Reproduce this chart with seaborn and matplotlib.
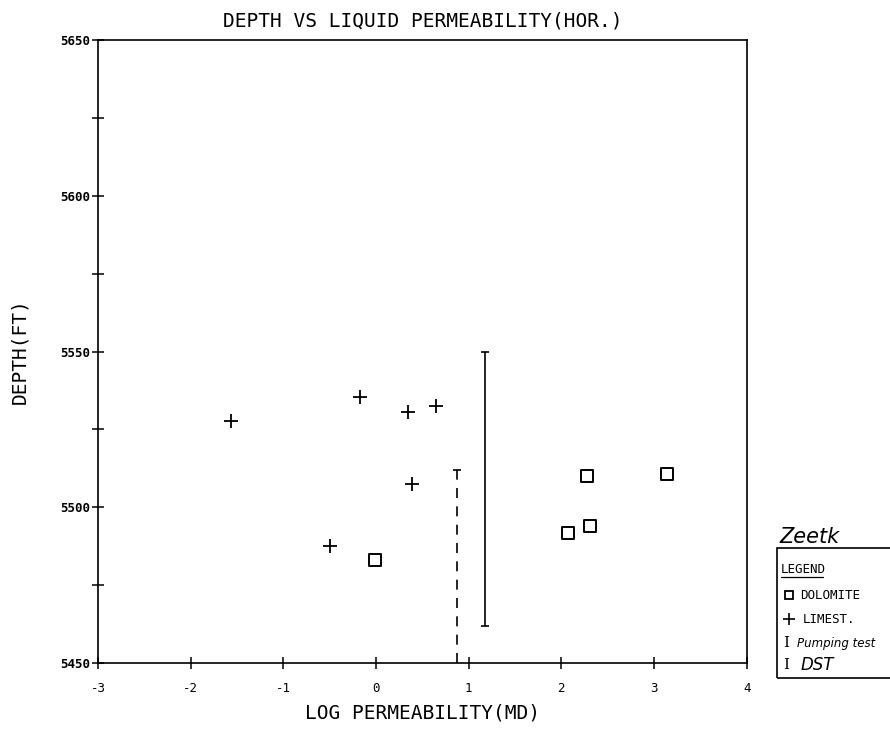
import numpy as np
import pandas as pd
import seaborn as sns
import matplotlib.pyplot as plt
from matplotlib.patches import Rectangle
from matplotlib.lines import Line2D

# data
limest_perm = [-1.56, -0.17, 0.35, 0.65, 0.39, -0.50]
limest_depth = [5527.6, 5535.5, 5530.7, 5532.4, 5507.4, 5487.5]
dolo_perm = [-0.01, 2.28, 3.14, 2.07, 2.31]
dolo_depth = [5483.0, 5510.0, 5510.7, 5491.8, 5494.0]

# tested intervals
pump_perm = [1.18]
pump_top = [5550.0]
pump_bot = [5462.0]
dst_perm = [0.87]
dst_top = [5512.0]
dst_bot = [5450.0]

x_ticks = [-3, -2, -1, 0, 1, 2, 3, 4]
y_major = [5450, 5500, 5550, 5600, 5650]
y_minor = [5475, 5525, 5575, 5625]

sns.set_theme(style="white")
plt.rcParams['font.family'] = ['DejaVu Sans Mono', 'DejaVu Sans']
plt.rcParams['text.color'] = 'black'
plt.rcParams['axes.labelcolor'] = 'black'

fig = plt.figure(figsize=(8.9, 7.47), dpi=100)
ax = fig.add_axes([0.110, 0.1124, 0.729, 0.834])

lim = pd.DataFrame({"perm": limest_perm, "depth": limest_depth})
dol = pd.DataFrame({"perm": dolo_perm, "depth": dolo_depth})

sns.scatterplot(data=lim, x="perm", y="depth", marker="+", s=110,
                color="black", linewidth=1.3, ax=ax)
sns.scatterplot(data=dol, x="perm", y="depth", marker="s", s=70,
                facecolor="none", edgecolor="black", linewidth=1.4, ax=ax)

# pumping test (solid) and DST (dashed)
ax.vlines(pump_perm, pump_bot, pump_top, colors="black", linewidth=1.2)
ax.scatter(pump_perm * 2, pump_top + pump_bot, marker="_", s=40,
           color="black", linewidth=1.2)
ax.vlines(dst_perm, dst_bot, dst_top, colors="black", linewidth=1.2,
          linestyles=(0, (6, 5)))
ax.scatter(dst_perm, dst_top, marker="_", s=40, color="black", linewidth=1.2)

ax.set_xlim(-3, 4)
ax.set_ylim(5450, 5650)
ax.set_xticks(x_ticks)
ax.set_xticklabels(["-3", "-2", "-1", "0", "1", "2", "3", "4"])
ax.set_yticks(y_major)
ax.set_yticks(y_minor, minor=True)
ax.tick_params(axis="both", which="both", direction="inout", length=9,
               width=1.1, colors="black", labelsize=9, bottom=True, left=True,
               top=False, right=False)
ax.tick_params(axis="y", pad=1)
ax.tick_params(axis="x", pad=9)
for lab in ax.get_yticklabels():
    lab.set_fontweight("bold")
for sp in ax.spines.values():
    sp.set_color("black")
    sp.set_linewidth(1.2)

ax.set_xlabel("LOG PERMEABILITY(MD)", fontsize=14, labelpad=6)
ax.set_ylabel("DEPTH(FT)", fontsize=14, labelpad=22)
ax.set_title("DEPTH VS LIQUID PERMEABILITY(HOR.)", fontsize=14, pad=10)

# legend box drawn on the figure
fig.patches.append(Rectangle((0.873, 0.092), 0.2, 0.174, transform=fig.transFigure,
                             fill=False, edgecolor="black", linewidth=1.2))
fig.text(0.877, 0.238, "LEGEND", fontsize=9, va="center")
fig.lines.append(Line2D([0.877, 0.925], [0.227, 0.227], transform=fig.transFigure,
                        color="black", linewidth=0.9))
fig.lines.append(Line2D([0.887], [0.203], transform=fig.transFigure, marker="s",
                        markersize=6, markerfacecolor="none", markeredgecolor="black",
                        markeredgewidth=1.3))
fig.text(0.899, 0.203, "DOLOMITE", fontsize=9, va="center")
fig.lines.append(Line2D([0.887], [0.171], transform=fig.transFigure, marker="+",
                        markersize=8, color="black", markeredgewidth=1.2))
fig.text(0.902, 0.171, "LIMEST.", fontsize=9, va="center")
fig.text(0.880, 0.139, "I", fontsize=11, va="center", family="DejaVu Serif")
fig.text(0.895, 0.139, "Pumping test", fontsize=8.5, va="center", style="italic",
         family="DejaVu Sans")
fig.text(0.880, 0.110, "I", fontsize=11, va="center", family="DejaVu Serif")
fig.text(0.899, 0.110, "DST", fontsize=12, va="center", style="italic",
         family="DejaVu Sans")
fig.text(0.876, 0.281, "Zeetk", fontsize=15, va="center", style="italic",
         family="DejaVu Sans")

fig.savefig("out.png", dpi=100)
